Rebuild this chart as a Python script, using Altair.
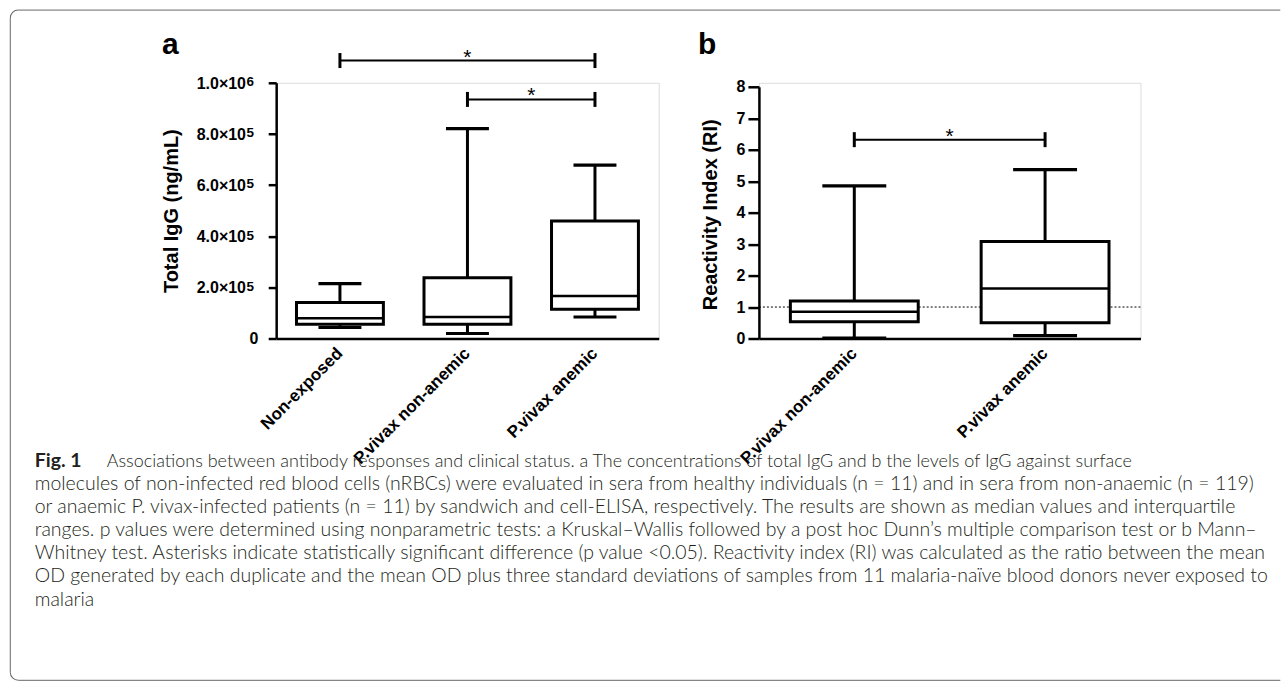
import math
import altair as alt
import pandas as pd

# ---------------- data ----------------
groups_a = ["Non-exposed", "P.vivax non-anemic", "P.vivax anemic"]
a_min = [43000, 19500, 84000]
a_q1 = [56000, 56000, 114000]
a_median = [79000, 84000, 166000]
a_q3 = [141000, 238000, 460000]
a_max = [215000, 821000, 678000]
a_ticks = [0, 200000, 400000, 600000, 800000, 1000000]
a_tick_mantissa = ["0", "2.0×10", "4.0×10", "6.0×10", "8.0×10", "1.0×10"]
a_tick_exponent = ["", "5", "5", "5", "5", "6"]
a_sig_from = ["Non-exposed", "P.vivax non-anemic"]
a_sig_to = ["P.vivax anemic", "P.vivax anemic"]
a_sig_y = [1087000, 935000]

groups_b = ["P.vivax non-anemic", "P.vivax anemic"]
b_min = [0.01, 0.09]
b_q1 = [0.53, 0.50]
b_median = [0.85, 1.59]
b_q3 = [1.19, 3.08]
b_max = [4.85, 5.37]
b_ticks = [0, 1, 2, 3, 4, 5, 6, 7, 8]
b_sig_from = ["P.vivax non-anemic"]
b_sig_to = ["P.vivax anemic"]
b_sig_y = [6.32]
b_cutoff = [1.0]

caption_head = "Fig. 1"
caption_lines = [
    "Associations between antibody responses and clinical status. a The concentrations of total IgG and b the levels of IgG against surface",
    "molecules of non-infected red blood cells (nRBCs) were evaluated in sera from healthy individuals (n = 11) and in sera from non-anaemic (n = 119)",
    "or anaemic P. vivax-infected patients (n = 11) by sandwich and cell-ELISA, respectively. The results are shown as median values and interquartile",
    "ranges. p values were determined using nonparametric tests: a Kruskal–Wallis followed by a post hoc Dunn’s multiple comparison test or b Mann–",
    "Whitney test. Asterisks indicate statistically significant difference (p value <0.05). Reactivity index (RI) was calculated as the ratio between the mean",
    "OD generated by each duplicate and the mean OD plus three standard deviations of samples from 11 malaria-naïve blood donors never exposed to",
    "malaria",
]

# ---------------- layout constants ----------------
FONT = "Liberation Sans"
CAP_FONT = "Lato"
CAP_SIZE = 19.5
CAP_SIZE_FIRST = 18
OX, OY = 276.7, 83.3          # panel a plot origin on the page
PH = 256                      # plot height
WA, WB = 383, 382
GAP = 100.3
LINE_H = 23.2
CAP_Y0 = 467.5
FRAME = "#666666"


def panel(groups, lo, q1, med, q3, hi, ticks, ytitle, ydomain, width,
          ytop, box_w, cap_w, tick_size, label_pad, sig_from, sig_to, sig_y,
          letter, letter_x, title_x, title_y, cutoff=None, show_labels=True):
    df = pd.DataFrame({"group": groups, "lo": lo, "q1": q1, "med": med, "q3": q3, "hi": hi})
    xs = alt.Scale(domain=groups, paddingInner=0, paddingOuter=0)
    ys = alt.Scale(domain=ydomain, range=[PH, ytop], nice=False, zero=False)
    step = width / len(groups)
    xaxis = alt.Axis(title=None, labelAngle=-45, labelAlign="right", labelBaseline="middle",
                     ticks=False, labelPadding=12, labelFontSize=17, labelFontWeight="bold",
                     labelFont=FONT, labelColor="black", domainColor="black", domainWidth=2.5,
                     grid=False)
    yaxis = alt.Axis(title=ytitle, values=ticks, labels=show_labels, format="d", grid=False,
                     titleX=title_x, titleY=title_y, titleAngle=270, titleAlign="center",
                     titleBaseline="middle", titleFontSize=20, titleFontWeight="bold",
                     titleFont=FONT, titleColor="black", labelFont=FONT, labelFontSize=16,
                     labelFontWeight="bold", labelColor="black", labelPadding=label_pad,
                     tickSize=tick_size, tickWidth=2.5, tickColor="black",
                     domainColor="black", domainWidth=2.5)

    def X(field):
        return alt.X(field, type="nominal", scale=xs, axis=xaxis, title=None)

    def Y(field):
        return alt.Y(field, type="quantitative", scale=ys, axis=yaxis, title=ytitle)

    base = alt.Chart(df)
    layers = []
    if cutoff is not None:
        layers.append(alt.Chart(pd.DataFrame({"c": cutoff})).mark_rule(
            color="black", strokeWidth=1, strokeDash=[2, 2]).encode(y=Y("c")))
    layers.append(base.mark_rule(color="black", strokeWidth=3).encode(x=X("group"), y=Y("q3"), y2="hi"))
    layers.append(base.mark_rule(color="black", strokeWidth=3).encode(x=X("group"), y=Y("lo"), y2="q1"))
    layers.append(base.mark_bar(size=box_w, fill="white", stroke="black", strokeWidth=3,
                                strokeJoin="miter").encode(x=X("group"), y=Y("q1"), y2="q3"))
    layers.append(base.mark_tick(orient="horizontal", size=box_w, thickness=2.5, color="black",
                                 opacity=1).encode(x=X("group"), y=Y("med")))
    layers.append(base.mark_tick(orient="horizontal", size=cap_w, thickness=3.2, color="black",
                                 opacity=1).encode(x=X("group"), y=Y("hi")))
    layers.append(base.mark_tick(orient="horizontal", size=cap_w, thickness=3.2, color="black",
                                 opacity=1).encode(x=X("group"), y=Y("lo")))

    sig = pd.DataFrame({"from": sig_from, "to": sig_to, "y": sig_y})
    layers.append(alt.Chart(sig).mark_rule(color="black", strokeWidth=2).encode(
        x=X("from"), x2="to", y=Y("y")))
    ends = pd.DataFrame({"g": sig_from + sig_to, "y": sig_y + sig_y})
    layers.append(alt.Chart(ends).mark_tick(orient="vertical", size=15, thickness=3, color="black",
                                            opacity=1).encode(x=X("g"), y=Y("y")))
    for f, t, yv in zip(sig_from, sig_to, sig_y):
        dx = (groups.index(t) - groups.index(f)) * step / 2
        layers.append(alt.Chart(pd.DataFrame({"from": [f], "y": [yv]})).mark_text(
            text="*", dx=dx, dy=3, fontSize=21, font=FONT, color="black",
            baseline="alphabetic", align="center").encode(x=X("from"), y=Y("y")))
    layers.append(alt.Chart(pd.DataFrame({"t": [letter]})).mark_text(
        fontSize=30, fontWeight="bold", font=FONT, color="black", align="left",
        baseline="alphabetic").encode(x=alt.value(letter_x), y=alt.value(54 - OY), text="t:N"))
    return layers, Y


layers_a, Ya = panel(groups_a, a_min, a_q1, a_median, a_q3, a_max, a_ticks,
                     "Total IgG (ng/mL)", [0, 1000000], WA, 0, 87, 43, 8, 8,
                     a_sig_from, a_sig_to, a_sig_y, "a", 162.3 - OX, -105, 128,
                     show_labels=False)

# y tick labels of panel a with raised exponents (drawn from the tick arrays)
tick_df = pd.DataFrame({"v": a_ticks, "m": a_tick_mantissa, "e": a_tick_exponent})
tick_layers = [
    alt.Chart(tick_df).transform_filter("datum.e == ''").mark_text(
        align="right", baseline="alphabetic", dy=5.8, fontSize=16, fontWeight="bold",
        font=FONT, color="black").encode(x=alt.value(-17.8), y=Ya("v"), text="m:N"),
    alt.Chart(tick_df).transform_filter("datum.e != ''").mark_text(
        align="right", baseline="alphabetic", dy=5.8, fontSize=16, fontWeight="bold",
        font=FONT, color="black").encode(x=alt.value(-30.2), y=Ya("v"), text="m:N"),
    alt.Chart(tick_df).transform_filter("datum.e != ''").mark_text(
        align="left", baseline="alphabetic", dy=3.4, fontSize=13.5, fontWeight="bold",
        font=FONT, color="black").encode(x=alt.value(-29.6), y=Ya("v"), text="e:N"),
]

# figure frame (thin rounded border), drawn relative to panel a origin
fr = alt.Chart(pd.DataFrame({"k": [0]}))
frame_layers = [
    fr.mark_rule(color=FRAME, strokeWidth=1).encode(
        x=alt.value(18.5 - OX), x2=alt.value(1282 - OX), y=alt.value(10.5 - OY)),
    fr.mark_rule(color=FRAME, strokeWidth=1).encode(
        x=alt.value(10.5 - OX), y=alt.value(18.5 - OY), y2=alt.value(673.5 - OY)),
    fr.mark_rule(color=FRAME, strokeWidth=1).encode(
        x=alt.value(18.5 - OX), x2=alt.value(1282 - OX), y=alt.value(681.5 - OY)),
    fr.mark_arc(radius=8.5, radius2=7.5, theta=1.5 * math.pi, theta2=2 * math.pi,
                color=FRAME).encode(x=alt.value(18.5 - OX), y=alt.value(18.5 - OY)),
    fr.mark_arc(radius=8.5, radius2=7.5, theta=math.pi, theta2=1.5 * math.pi,
                color=FRAME).encode(x=alt.value(18.5 - OX), y=alt.value(673.5 - OY)),
]

# caption lines
cap_color = "#231f20"
caption_layers = [
    alt.Chart(pd.DataFrame({"t": [caption_head]})).mark_text(
        align="left", baseline="alphabetic", font=CAP_FONT, fontSize=CAP_SIZE, fontWeight="bold",
        color=cap_color).encode(x=alt.value(35 - OX), y=alt.value(CAP_Y0 - OY), text="t:N")
]
for i, line in enumerate(caption_lines):
    x0 = 107 if i == 0 else 35
    size = CAP_SIZE_FIRST if i == 0 else CAP_SIZE
    caption_layers.append(alt.Chart(pd.DataFrame({"t": [line]})).mark_text(
        align="left", baseline="alphabetic", font=CAP_FONT, fontSize=size, fontWeight=300,
        color=cap_color).encode(x=alt.value(x0 - OX), y=alt.value(CAP_Y0 + i * LINE_H - OY), text="t:N"))

chart_a = alt.layer(*(frame_layers + caption_layers + layers_a + tick_layers)).properties(width=WA, height=PH)

layers_b, Yb = panel(groups_b, b_min, b_q1, b_median, b_q3, b_max, b_ticks,
                     "Reactivity Index (RI)", [0, 8], WB, 4, 128, 64, 11, 3,
                     b_sig_from, b_sig_to, b_sig_y, "b", 699 - (OX + WA + GAP), -48.3, 131.7,
                     cutoff=b_cutoff)
chart_b = alt.layer(*layers_b).properties(width=WB, height=PH)

chart = alt.HConcatChart(hconcat=[chart_a, chart_b], spacing=GAP, bounds="flush").properties(
    padding={"left": 8.5, "top": 8.5, "right": 0, "bottom": 0},
    background="white",
).configure_view(strokeWidth=0).configure(font=FONT)

chart.save("out.html", embed_options={"renderer": "svg", "actions": False})
